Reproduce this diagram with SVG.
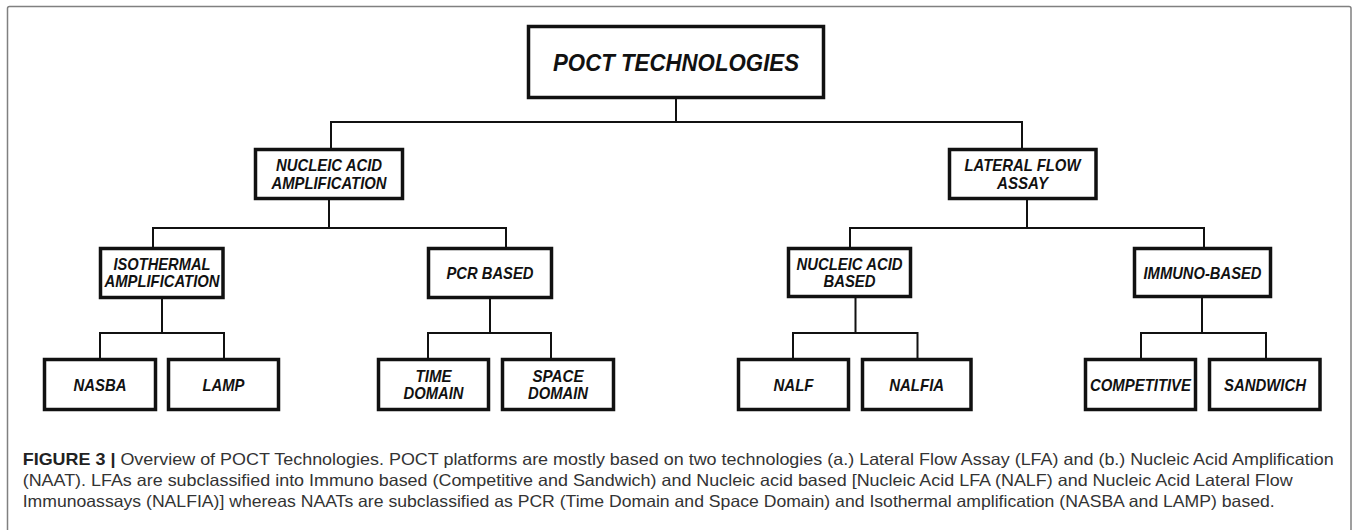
<svg xmlns="http://www.w3.org/2000/svg" width="1358" height="530" viewBox="0 0 1358 530">
<style>
.frame{fill:none;stroke:#808080;stroke-width:1.5}
.box{fill:#fff;stroke:#111;stroke-width:3.5}
.lbl{font-family:"Liberation Sans",Arial,sans-serif;font-weight:bold;font-style:italic;font-size:16.5px;fill:#111;text-anchor:middle}
.big{font-size:24px}
.conn{fill:none;stroke:#111;stroke-width:2;stroke-linecap:square}
.cap{font-family:"Liberation Sans",Arial,sans-serif;font-size:16.5px;fill:#333}
.capb{font-weight:bold;fill:#222}
</style>
<rect width="1358" height="530" fill="#fff"/>
<rect class="frame" x="7.5" y="6.5" width="1343.5" height="540" rx="2"/>
<g id="connectors">
<path class="conn" d="M676,99 V122 M331,122 H1022 M331,122 V148 M1022,122 V148"/>
<path class="conn" d="M329,200 V228 M153,228 H506 M153,228 V247 M506,228 V247"/>
<path class="conn" d="M1027,200 V228 M850,228 H1204 M850,228 V247 M1204,228 V247"/>
<path class="conn" d="M162,299 V333 M100,333 H224 M100,333 V358 M224,333 V358"/>
<path class="conn" d="M490,299 V333 M428,333 H551 M428,333 V358 M551,333 V358"/>
<path class="conn" d="M855.5,298 V333 M793,333 H917.5 M793,333 V358 M917.5,333 V358"/>
<path class="conn" d="M1202,298 V333 M1141,333 H1266 M1141,333 V358 M1266,333 V358"/>
</g>
<g id="poct"><rect class="box" x="528.5" y="26.5" width="295" height="71"/><text class="lbl big" x="676" y="70.5" textLength="246" lengthAdjust="spacingAndGlyphs">POCT TECHNOLOGIES</text></g>
<g id="naa"><rect class="box" x="255.5" y="149.5" width="147" height="49"/><text class="lbl" x="329" y="171" textLength="106" lengthAdjust="spacingAndGlyphs">NUCLEIC ACID</text><text class="lbl" x="329" y="188.8" textLength="115" lengthAdjust="spacingAndGlyphs">AMPLIFICATION</text></g>
<g id="lfa"><rect class="box" x="949.5" y="149.5" width="146.5" height="49"/><text class="lbl" x="1022.5" y="171" textLength="116" lengthAdjust="spacingAndGlyphs">LATERAL FLOW</text><text class="lbl" x="1022.5" y="188.8" textLength="51" lengthAdjust="spacingAndGlyphs">ASSAY</text></g>
<g id="iso"><rect class="box" x="100.5" y="248.5" width="122.5" height="49"/><text class="lbl" x="162" y="269.8" textLength="97" lengthAdjust="spacingAndGlyphs">ISOTHERMAL</text><text class="lbl" x="162" y="287.2" textLength="115" lengthAdjust="spacingAndGlyphs">AMPLIFICATION</text></g>
<g id="pcr"><rect class="box" x="428.5" y="248.5" width="123" height="49"/><text class="lbl" x="490" y="279" textLength="87" lengthAdjust="spacingAndGlyphs">PCR BASED</text></g>
<g id="nab"><rect class="box" x="788.5" y="248.5" width="122" height="48"/><text class="lbl" x="849.5" y="269.8" textLength="106" lengthAdjust="spacingAndGlyphs">NUCLEIC ACID</text><text class="lbl" x="849.5" y="287.2" textLength="52" lengthAdjust="spacingAndGlyphs">BASED</text></g>
<g id="imm"><rect class="box" x="1134.5" y="248.5" width="136" height="48"/><text class="lbl" x="1202.5" y="279" textLength="118" lengthAdjust="spacingAndGlyphs">IMMUNO-BASED</text></g>
<g id="nasba"><rect class="box" x="44.5" y="359.5" width="111" height="50"/><text class="lbl" x="100" y="391" textLength="53" lengthAdjust="spacingAndGlyphs">NASBA</text></g>
<g id="lamp"><rect class="box" x="168.5" y="359.5" width="110" height="50"/><text class="lbl" x="223.5" y="391" textLength="42" lengthAdjust="spacingAndGlyphs">LAMP</text></g>
<g id="time"><rect class="box" x="378.5" y="359.5" width="110" height="50"/><text class="lbl" x="433.5" y="382.2" textLength="36" lengthAdjust="spacingAndGlyphs">TIME</text><text class="lbl" x="433.5" y="399" textLength="60" lengthAdjust="spacingAndGlyphs">DOMAIN</text></g>
<g id="space"><rect class="box" x="502.5" y="359.5" width="111" height="50"/><text class="lbl" x="558" y="382.2" textLength="51" lengthAdjust="spacingAndGlyphs">SPACE</text><text class="lbl" x="558" y="399" textLength="60" lengthAdjust="spacingAndGlyphs">DOMAIN</text></g>
<g id="nalf"><rect class="box" x="738.5" y="359.5" width="110" height="50"/><text class="lbl" x="793.5" y="391" textLength="40" lengthAdjust="spacingAndGlyphs">NALF</text></g>
<g id="nalfia"><rect class="box" x="862.5" y="359.5" width="108.5" height="50"/><text class="lbl" x="916.7" y="391" textLength="55" lengthAdjust="spacingAndGlyphs">NALFIA</text></g>
<g id="comp"><rect class="box" x="1085.5" y="359.5" width="110" height="50"/><text class="lbl" x="1140.5" y="391" textLength="101" lengthAdjust="spacingAndGlyphs">COMPETITIVE</text></g>
<g id="sand"><rect class="box" x="1209.5" y="359.5" width="110.5" height="50"/><text class="lbl" x="1265" y="391" textLength="82" lengthAdjust="spacingAndGlyphs">SANDWICH</text></g>
<g id="caption">
<text class="cap" x="22.7" y="465" textLength="1311" lengthAdjust="spacingAndGlyphs"><tspan class="capb">FIGURE 3 |</tspan> Overview of POCT Technologies. POCT platforms are mostly based on two technologies (a.) Lateral Flow Assay (LFA) and (b.) Nucleic Acid Amplification</text>
<text class="cap" x="22.7" y="486" textLength="1270" lengthAdjust="spacingAndGlyphs">(NAAT). LFAs are subclassified into Immuno based (Competitive and Sandwich) and Nucleic acid based [Nucleic Acid LFA (NALF) and Nucleic Acid Lateral Flow</text>
<text class="cap" x="22.7" y="507" textLength="1252" lengthAdjust="spacingAndGlyphs">Immunoassays (NALFIA)] whereas NAATs are subclassified as PCR (Time Domain and Space Domain) and Isothermal amplification (NASBA and LAMP) based.</text>
</g>
</svg>
